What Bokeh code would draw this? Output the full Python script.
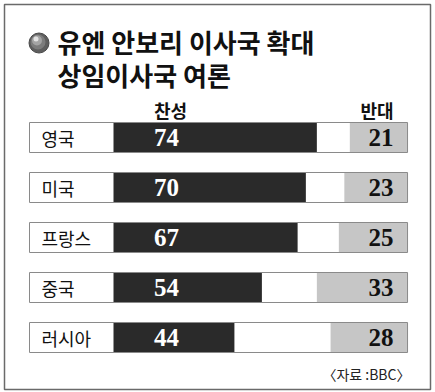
from bokeh.plotting import figure
from bokeh.models import Range1d
from bokeh.embed import file_html
from bokeh.resources import INLINE
from bokeh.core.properties import value

# ---- data ----
countries = ["영국", "미국", "프랑스", "중국", "러시아"]
favor = [74, 70, 67, 54, 44]
oppose = [21, 23, 25, 33, 28]
title_lines = ["유엔 안보리 이사국 확대", "상임이사국 여론"]
header_favor = "찬성"
header_oppose = "반대"
source_text = "〈자료 :BBC〉"

# ---- layout helpers (screen px of reference -> data units) ----
W, H = 435, 392
OFF = 0
K = 2.748      # px per percent
X0 = 113       # screen x of 0 %
FULL = 107     # right end of the scale, percent units
ROW0, ROWSTEP = 137, 50


def X(px):
    return (px - X0) / K


def Y(py):
    return (py - ROW0) / ROWSTEP


KR = value("Noto Sans CJK KR")
SERIF = value("Liberation Serif")

p = figure(width=W, height=H,
           x_range=Range1d(X(OFF), X(OFF + W)),
           y_range=Range1d(Y(OFF + H), Y(OFF)),
           output_backend="svg", toolbar_location=None, min_border=0)
p.axis.visible = False
p.grid.visible = False
p.outline_line_color = None
p.background_fill_color = "white"
p.border_fill_color = "white"

# outer frame
p.quad(left=[X(4)], right=[X(430)], top=[Y(4)], bottom=[Y(389)],
       fill_alpha=0, line_color="#6a6a6a", line_width=1.5)

idx = list(range(len(countries)))
BAR_H = 30 / ROWSTEP

# row boxes
p.hbar(y=idx, left=X(29), right=FULL, height=BAR_H,
       fill_color="white", line_color=None)
p.hbar(y=idx, left=0, right=favor, height=BAR_H,
       fill_color="#2a2a2a", line_color=None)
p.hbar(y=idx, left=[FULL - o for o in oppose], right=FULL, height=BAR_H,
       fill_color="#c6c6c6", line_color=None)
p.hbar(y=idx, left=X(29), right=FULL, height=BAR_H,
       fill_alpha=0, line_color="#8a8a8a", line_width=1)

# values
p.text(x=[X(166)] * len(idx), y=idx, text=[str(v) for v in favor],
       text_align="center", text_baseline="middle", text_color="white",
       text_font=SERIF, text_font_style="bold", text_font_size="25px")
p.text(x=[X(393)] * len(idx), y=idx, text=[str(v) for v in oppose],
       text_align="right", text_baseline="middle", text_color="#111111",
       text_font=SERIF, text_font_style="bold", text_font_size="25px")

# country labels
p.text(x=[X(41)] * len(idx), y=idx, text=countries,
       text_align="left", text_baseline="middle", text_color="#111111",
       text_font=KR, text_font_size="18px")

# headers
p.text(x=[X(170)], y=[Y(109)], text=[header_favor], text_align="center",
       text_baseline="middle", text_color="#111111", text_font=KR,
       text_font_style="bold", text_font_size="18px")
p.text(x=[X(393)], y=[Y(109)], text=[header_oppose], text_align="right",
       text_baseline="middle", text_color="#111111", text_font=KR,
       text_font_style="bold", text_font_size="18px")

# title
p.text(x=[X(57), X(57)], y=[Y(41), Y(74)], text=title_lines,
       text_align="left", text_baseline="middle", text_color="#111111",
       text_font=KR, text_font_style="bold", text_font_size="26px")

# bullet sphere
p.scatter(x=[X(38.5)], y=[Y(42.5)], marker="circle", size=20,
          fill_color="#5e5e5e", line_color="#4a4a4a", line_width=1)
p.scatter(x=[X(37.5)], y=[Y(41.5)], marker="circle", size=15,
          fill_color="#7c7c7c", line_color=None)
p.scatter(x=[X(36.5)], y=[Y(40)], marker="circle", size=10,
          fill_color="#a4a4a4", line_color=None)
p.scatter(x=[X(35.5)], y=[Y(38.5)], marker="circle", size=5,
          fill_color="#e2e2e2", line_color=None)

# source
p.text(x=[X(410)], y=[Y(373)], text=[source_text], text_align="right",
       text_baseline="middle", text_color="#222222", text_font=KR,
       text_font_size="14px")

open("out.html", "w").write(file_html(p, INLINE))
